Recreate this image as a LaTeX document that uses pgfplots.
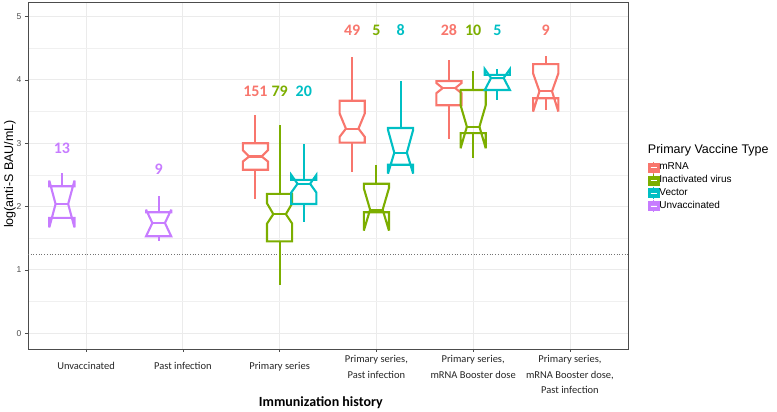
\documentclass[border=0pt]{standalone}
\usepackage{pgfplots}
\pgfplotsset{compat=1.18}
\usepackage{fontspec}
\setmainfont{Liberation Sans}
\newfontfamily\calfont{Carlito}

\definecolor{mrna}{HTML}{F8766D}
\definecolor{inact}{HTML}{7CAE00}
\definecolor{vect}{HTML}{00BFC4}
\definecolor{unvac}{HTML}{C77CFF}

% notched box: x, colour, low whisker, low hinge, notch low, median, notch high, high hinge, high whisker
\newcommand{\nbox}[9]{%
  \pgfmathsetmacro\xa{#1-0.13}%
  \pgfmathsetmacro\xb{#1+0.13}%
  \pgfmathsetmacro\xc{#1-0.065}%
  \pgfmathsetmacro\xd{#1+0.065}%
  \edef\tmp{%
    \noexpand\addplot[forget plot, draw=#2, line width=2.1pt, miter limit=4] coordinates {(\xa,#8) (\xa,#7) (\xc,#6) (\xa,#5) (\xa,#4) (\xb,#4) (\xb,#5) (\xd,#6) (\xb,#7) (\xb,#8)} --cycle;
    \noexpand\addplot[forget plot, draw=#2, line width=2.1pt] coordinates {(\xc,#6) (\xd,#6)};
    \noexpand\addplot[forget plot, draw=#2, line width=2.1pt] coordinates {(#1,#8) (#1,#9)};
    \noexpand\addplot[forget plot, draw=#2, line width=2.1pt] coordinates {(#1,#4) (#1,#3)};
  }%
  \tmp}

\begin{document}
\begin{tikzpicture}
\path[use as bounding box] (0,0) rectangle (777pt,412pt);
\begin{axis}[
    at={(28pt,63pt)}, anchor=south west,
    scale only axis, width=600pt, height=347pt,
    clip=false,
    xmin=0.4, xmax=6.6, ymin=-0.25, ymax=5.23,
    xtick={1,2,3,4,5,6},
    xticklabels={{\rule{0pt}{14pt}Unvaccinated},{\rule{0pt}{14pt}Past infection},{\rule{0pt}{14pt}Primary series},
      {Primary series,\\Past infection},{Primary series,\\mRNA Booster dose},
      {Primary series,\\mRNA Booster dose,\\Past infection}},
    x tick label style={font=\fontsize{10.5}{15.5}\selectfont\calfont, align=center, text=black!85, anchor=north},
    ytick={0,1,2,3,4,5},
    minor ytick={0.5,1.5,2.5,3.5,4.5},
    y tick label style={font=\fontsize{8.5}{10}\selectfont, text=black!70},
    /pgf/number format/assume math mode=true,
    tick pos=left, tick align=outside,
    major tick length=3pt, minor tick length=0pt,
    tick style={black!70, line width=0.6pt},
    xmajorgrids, ymajorgrids, yminorgrids,
    major grid style={color=black!8, line width=0.8pt},
    minor grid style={color=black!6, line width=0.5pt},
    axis line style={black!70, line width=0.9pt},
    ylabel={log(anti-S BAU/mL)},
    ylabel style={at={(axis description cs:-0.03,0.504)}, anchor=center, font=\fontsize{12.5}{14}\selectfont},
    xlabel={Immunization history},
    xlabel style={at={(axis description cs:0.488,-0.156)}, anchor=center, font=\fontsize{14}{16}\selectfont\calfont\bfseries},
    legend image code/.code={
      \fill[#1] (0pt,-4.5pt) rectangle (11pt,4.5pt);
      \draw[#1, line width=0.8pt] (5.5pt,4.5pt) -- (5.5pt,6pt) (5.5pt,-4.5pt) -- (5.5pt,-6pt);
      \draw[white, line width=0.6pt] (2.5pt,0pt) -- (8.5pt,0pt);
    },
    legend style={draw=none, fill=none, at={(1.033,0.542)}, anchor=north west,
      font=\fontsize{10}{11}\selectfont, inner sep=0pt, row sep=0pt,
      nodes={inner sep=0pt, text height=8pt, text depth=3.7pt, anchor=west},
      /tikz/every even column/.append style={column sep=6pt}},
    legend cell align=left,
]
% reference line
\addplot[forget plot, dotted, black!55, line width=0.7pt] coordinates {(0.4,1.24) (6.6,1.24)};

% Unvaccinated / Past infection
\nbox{0.75}{unvac}{1.82}{1.82}{1.67}{2.04}{2.41}{2.32}{2.53}
\nbox{1.75}{unvac}{1.45}{1.53}{1.53}{1.74}{1.95}{1.91}{2.17}
% Primary series
\nbox{2.75}{mrna}{2.12}{2.58}{2.71}{2.79}{2.89}{3.00}{3.45}
\nbox{3.00}{inact}{0.76}{1.45}{1.73}{1.88}{2.05}{2.20}{3.28}
\nbox{3.25}{vect}{1.75}{2.04}{2.22}{2.36}{2.50}{2.42}{2.98}
% Primary series, past infection
\nbox{3.75}{mrna}{2.55}{3.01}{3.10}{3.23}{3.47}{3.67}{4.36}
\nbox{4.00}{inact}{1.91}{1.91}{1.62}{1.95}{2.29}{2.36}{2.66}
\nbox{4.25}{vect}{2.66}{2.66}{2.52}{2.85}{3.21}{3.24}{3.99}
% Primary series, mRNA booster
\nbox{4.75}{mrna}{3.06}{3.60}{3.79}{3.87}{3.95}{3.98}{4.31}
\nbox{5.00}{inact}{2.76}{3.16}{2.92}{3.26}{3.60}{3.84}{4.14}
\nbox{5.25}{vect}{3.68}{3.84}{3.84}{4.03}{4.17}{4.08}{4.17}
% Primary series, mRNA booster, past infection
\nbox{5.75}{mrna}{3.52}{3.71}{3.50}{3.82}{4.10}{4.25}{4.38}

% group sizes
\pgfplotsset{ncount/.style={forget plot, draw=none, mark=none, nodes near coords, point meta=explicit symbolic,
  nodes near coords style={anchor=center, inner sep=0pt, font=\fontsize{16}{16}\selectfont\calfont\bfseries, text=#1}}}
\addplot[ncount=unvac] coordinates {(0.75,2.92)[13] (1.75,2.59)[9]};
\addplot[ncount=mrna] coordinates {(2.75,3.82)[151] (3.75,4.78)[49] (4.75,4.78)[28] (5.75,4.78)[9]};
\addplot[ncount=inact] coordinates {(3.00,3.82)[79] (4.00,4.78)[5] (5.00,4.78)[10]};
\addplot[ncount=vect] coordinates {(3.25,3.82)[20] (4.25,4.78)[8] (5.25,4.78)[5]};

\addlegendimage{fill=mrna, draw=mrna}
\addlegendentry{mRNA}
\addlegendimage{fill=inact, draw=inact}
\addlegendentry{Inactivated virus}
\addlegendimage{fill=vect, draw=vect}
\addlegendentry{Vector}
\addlegendimage{fill=unvac, draw=unvac}
\addlegendentry{Unvaccinated}

\node[anchor=west, font=\fontsize{12.5}{14}\selectfont, inner sep=0pt] at (rel axis cs:1.033,0.573) {Primary Vaccine Type};
\end{axis}
\end{tikzpicture}
\end{document}
